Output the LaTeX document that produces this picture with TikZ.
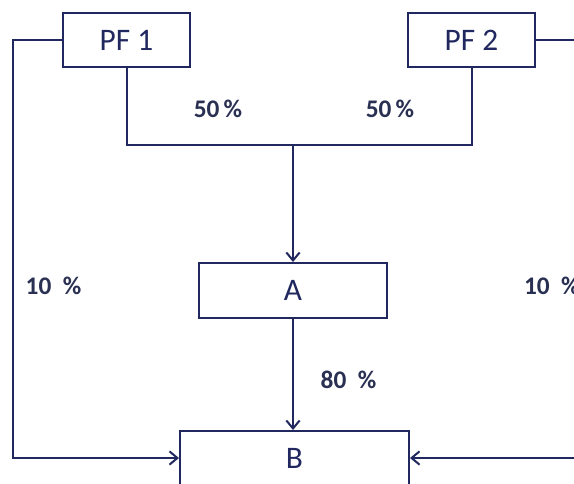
\documentclass[tikz,border=0pt]{standalone}
\usepackage{fontspec}
\setmainfont{Carlito}
\usetikzlibrary{arrows.meta}

\definecolor{navy}{RGB}{33,40,96}
\definecolor{pcttext}{RGB}{42,48,82}

\tikzset{every picture/.style={line width=1.5pt}}
\tikzset{
  flowbox/.style={draw=navy, fill=white, line width=1.5pt, inner sep=0pt, font=\fontsize{23.5}{26}\selectfont, text=navy},
  pct/.style={font=\bfseries\fontsize{19}{22}\selectfont, text=pcttext, inner sep=0.75pt},
  flow/.style={draw=navy, line width=1.5pt},
  flowarrow/.style={flow, -{Straight Barb[length=6pt,width=10pt,line width=1.5pt]}}
}
\newcommand{\pctgap}{\hspace{0.45em}}

\begin{document}
\begin{tikzpicture}[x=0.75pt,y=0.75pt,yscale=-1,xscale=1]
%set diagram frame: 574 x 483
\clip (0,0) rectangle (574,483);
\fill [white] (0,0) rectangle (574,483);

%Shape: Rectangle [id:pf1]
\node (PF1) [flowbox, minimum width=127*0.75pt, minimum height=54*0.75pt] at (126.5,40) {PF 1};
%Shape: Rectangle [id:pf2]
\node (PF2) [flowbox, minimum width=127*0.75pt, minimum height=54*0.75pt] at (471.5,40) {PF 2};
%Shape: Rectangle [id:a]
\node (A) [flowbox, minimum width=188*0.75pt, minimum height=55*0.75pt] at (293,290.5) {A};
%Shape: Rectangle [id:b]
\node (B) [flowbox, minimum width=229*0.75pt, minimum height=54*0.75pt] at (294.5,458) {B};

%Corner points
\coordinate (split) at (293,145);
\coordinate (lft) at (13,458);
\coordinate (rgt) at (592,458);

%Straight Lines [id:merge]
\draw [flow] (PF1.south) |- (split) -| (PF2.south);
\draw [flowarrow] (split) -- (split |- A.north);
%Straight Lines [id:atob]
\draw [flowarrow] (A.south) -- (A.south |- B.north);
%Straight Lines [id:left]
\draw [flowarrow] (PF1.west) -| (lft) -- (B.west);
%Straight Lines [id:right]
\draw [flowarrow] (PF2.east) -| (rgt) -- (B.east);

% Text Node
\node (p1) [pct] at (218,109) {50\,\%};
% Text Node
\node (p2) [pct] at (390,109) {50\,\%};
% Text Node
\node (p3) [pct] at (53.5,286) {10\pctgap\%};
% Text Node
\node (p4) [pct, anchor=west] at (522,286) {10\pctgap\%};
% Text Node
\node (p5) [pct] at (348.5,380) {80\pctgap\%};

\end{tikzpicture}
\end{document}
